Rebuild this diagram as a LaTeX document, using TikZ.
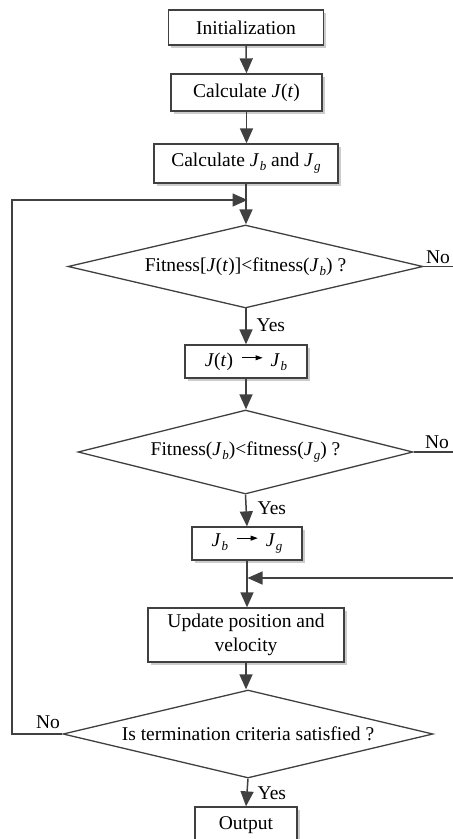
\documentclass[tikz,border=0pt]{standalone}
\usepackage{fontspec}
\setmainfont{Liberation Serif}
\usetikzlibrary{arrows.meta,shapes.geometric,shadows}
\definecolor{lc}{HTML}{404040}
\newcommand\Jv{\textit{J}}
\newcommand\Jsb[1]{\textit{J}\kern0.03em\raisebox{-0.2em}{\fontsize{13}{13}\selectfont\textit{#1}}}
\newcommand\tarrow{\raisebox{5.8pt}{\begin{pgfpicture}%
\pgfsetlinewidth{0.9pt}\pgfsetstrokecolor{black}\pgfsetfillcolor{black}%
\pgfpathmoveto{\pgfpoint{0pt}{0pt}}\pgfpathlineto{\pgfpoint{15pt}{0pt}}\pgfusepath{stroke}%
\pgfpathmoveto{\pgfpoint{14pt}{-2.6pt}}\pgfpathlineto{\pgfpoint{21pt}{0pt}}\pgfpathlineto{\pgfpoint{14pt}{2.6pt}}\pgfpathclose\pgfusepath{fill}%
\end{pgfpicture}}}
\begin{document}
\begin{tikzpicture}[x=1pt,y=-1pt,
  line width=1.3pt,
  every node/.style={font=\fontsize{19.5}{24}\selectfont, text=black},
  procbox/.style={rectangle, draw=lc, fill=white, line width=1.3pt, inner sep=0pt, align=center,
    drop shadow={shadow xshift=2.5pt, shadow yshift=-2.5pt, fill=gray!40, opacity=1}},
  decbox/.style={diamond, draw=lc, fill=white, line width=1.3pt, inner sep=0pt, aspect=4.3},
  conn/.style={draw=lc, line width=1.5pt},
  arr/.style={conn, -{Triangle[length=15pt,width=13pt]}},
  lbl/.style={inner sep=0pt}
]
\useasboundingbox (0,0) rectangle (453,839);
\clip (0,0) rectangle (453,839);

\node[procbox, minimum width=155pt, minimum height=35pt] (init) at (246,27.5) {Initialization};
\node[procbox, minimum width=151pt, minimum height=37pt] (calcJ) at (246.5,92.5) {Calculate \Jv(\textit{t})};
\node[procbox, minimum width=184pt, minimum height=39pt] (calcB) at (246,163.5) {Calculate \Jsb{b} and \Jsb{g}};
\node[decbox, minimum width=355pt, minimum height=83pt] (d1) at (245.5,266.5) {Fitness[\Jv(\textit{t})]<fitness(\Jsb{b}) ?};
\node[procbox, minimum width=122pt, minimum height=33pt] (jtjb) at (246,361.5) {\Jv(\textit{t})\, \tarrow\, \Jsb{b}};
\node[decbox, minimum width=335pt, minimum height=84pt] (d2) at (245.5,452) {Fitness(\Jsb{b})<fitness(\Jsb{g}) ?};
\node[procbox, minimum width=110pt, minimum height=33pt] (jbjg) at (247,543.5) {\Jsb{b}\, \tarrow\, \Jsb{g}};
\node[procbox, minimum width=196pt, minimum height=54pt] (upd) at (246,635) {Update position and\\velocity};
\node[decbox, minimum width=370pt, minimum height=88pt] (d3) at (248,734) {Is termination criteria satisfied ?};
\node[procbox, minimum width=102pt, minimum height=36pt] (out) at (246,825) {Output};

\coordinate (loopin) at (247.5,200);
\coordinate (mergein) at (247.5,578);
\coordinate (redge1) at (453,266.5);
\coordinate (redge2) at (453,452);
\coordinate (redge3) at (453,578);
\coordinate (lcorner1) at (12,734);
\coordinate (lcorner2) at (12,200);

\draw[arr] (init.south) -- (calcJ.north);
\draw[arr] (calcJ.south) -- (calcJ.south |- calcB.north);
\draw[arr] (calcB.south) -- (calcB.south |- d1.north);
\draw[arr] (d1.south) -- (d1.south -| jtjb.north) -- (jtjb.north);
\draw[arr] (jtjb.south) -- (jtjb.south |- d2.north);
\draw[arr] (d2.south) -- (jbjg.north);
\draw[arr] (jbjg.south) -- (jbjg.south |- upd.north);
\draw[arr] (upd.south) -- (upd.south |- d3.north);
\draw[arr] (d3.south) -- (out.north);

\draw[conn] (d1.east) -- (redge1);
\draw[conn] (d2.east) -- (redge2);
\draw[arr] (redge3) -- (mergein);
\draw[arr] (d3.west) -- (lcorner1) -- (lcorner2) -- (loopin);

\node[lbl, anchor=west] (y1) at (256,325) {Yes};
\node[lbl, anchor=west] (y2) at (257,508) {Yes};
\node[lbl, anchor=west] (y3) at (257,793) {Yes};
\node[lbl] (n1) at (438,257) {No};
\node[lbl] (n2) at (437,442) {No};
\node[lbl] (n3) at (48,722) {No};
\end{tikzpicture}
\end{document}
